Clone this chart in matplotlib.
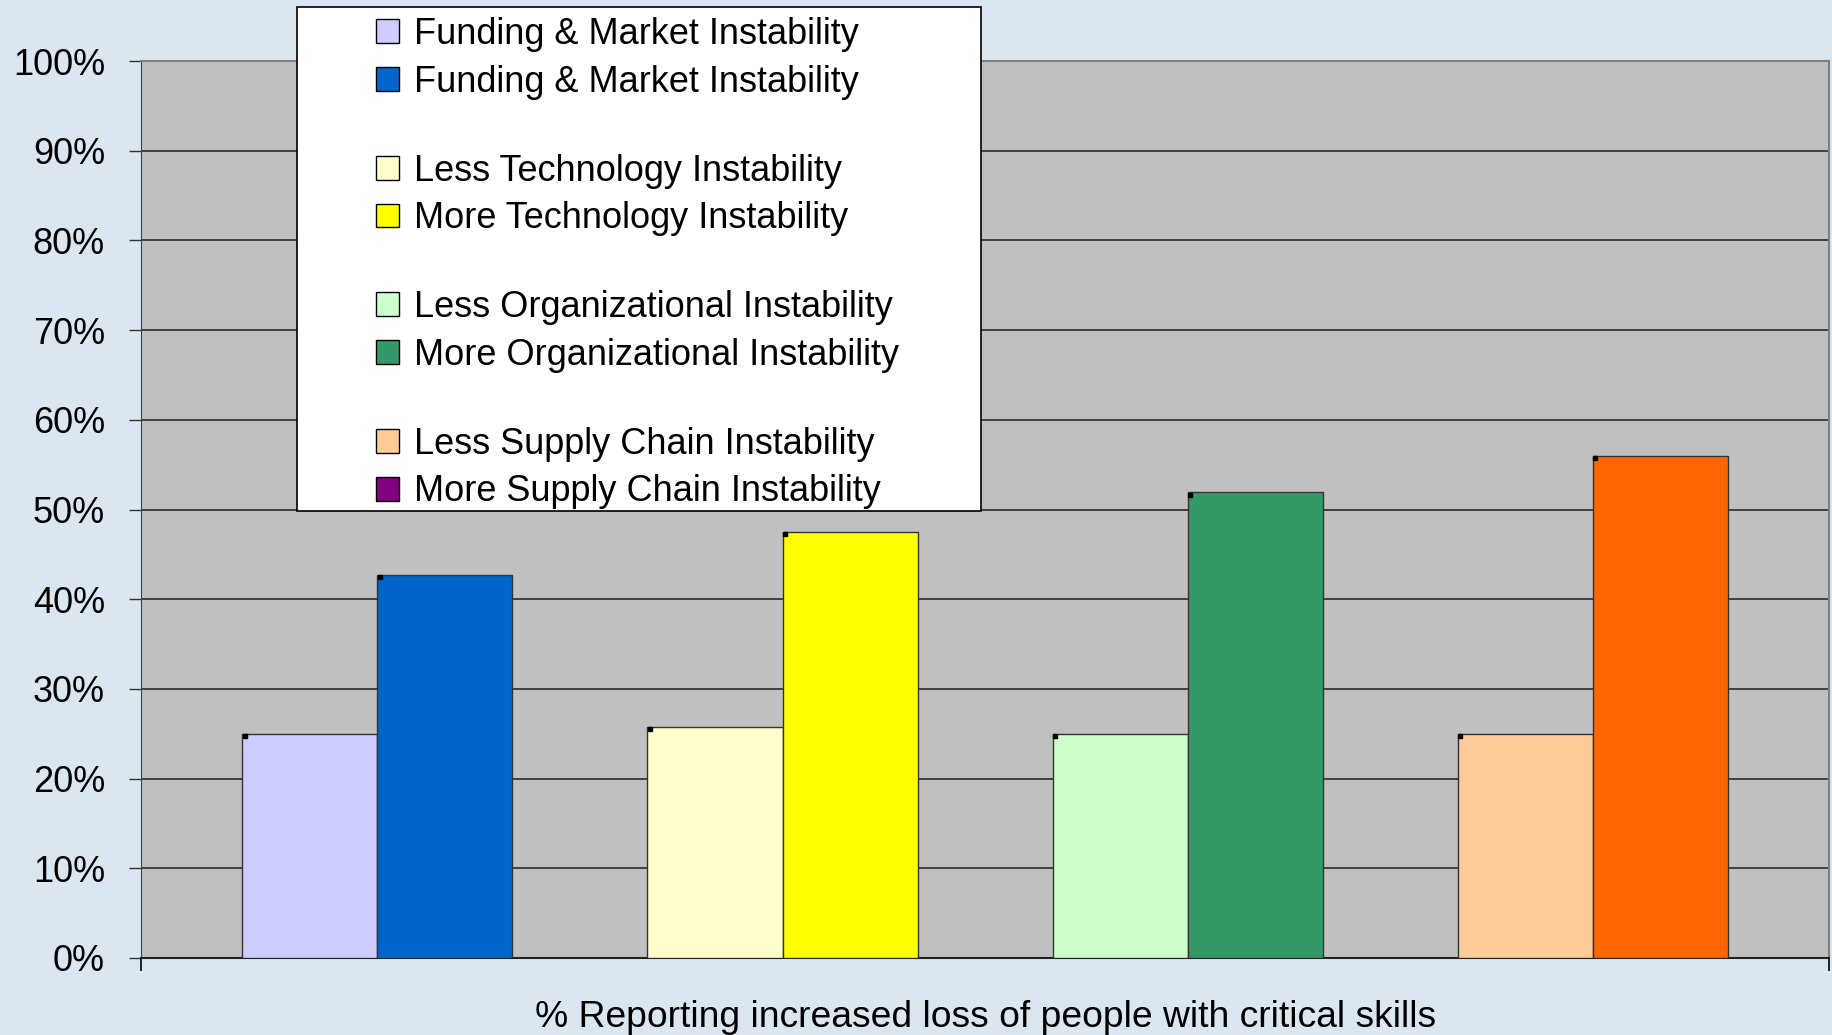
import matplotlib.pyplot as plt
from matplotlib.patches import Rectangle, Patch

# clustered bars: less / more instability for each factor, blank slot between factors
series = ['Funding & Market Instability', 'Funding & Market Instability', None,
          'Less Technology Instability', 'More Technology Instability', None,
          'Less Organizational Instability', 'More Organizational Instability', None,
          'Less Supply Chain Instability', 'More Supply Chain Instability']
values = [25.0, 42.7, None,
          25.8, 47.5, None,
          25.0, 51.9, None,
          25.0, 56.0]
bar_colors = ['#CCCCFF', '#0066CC', None,
              '#FFFFCC', '#FFFF00', None,
              '#CCFFCC', '#339966', None,
              '#FFCC99', '#FF6600']
legend_colors = ['#CCCCFF', '#0066CC', None,
                 '#FFFFCC', '#FFFF00', None,
                 '#CCFFCC', '#339966', None,
                 '#FFCC99', '#800080']
yticks = [0, 10, 20, 30, 40, 50, 60, 70, 80, 90, 100]
xlabel = '% Reporting increased loss of people with critical skills'

font = 'Liberation Sans'
bg = '#DAE6F0'
fig = plt.figure(figsize=(18.32, 10.35), dpi=100, facecolor=bg)
ax = fig.add_axes([0.077, 0.0744, 0.9214, 0.8666])
ax.set_facecolor('#C0C0C0')

for i, (v, c) in enumerate(zip(values, bar_colors)):
    if v is None:
        continue
    ax.bar(i, v, width=1.0, color=c, edgecolor='#333333', linewidth=1.0, zorder=3)
    ax.plot(i - 0.48, v - 0.25, marker='s', markersize=2.5, color='black', zorder=4)

ax.set_xlim(-1.25, 11.25)
ax.set_ylim(0, 100)
ax.set_yticks(yticks)
ax.set_yticklabels([f'{t}%' for t in yticks], fontsize=26, family=font)
ax.tick_params(axis='y', length=9, width=1, color='#333333', pad=17)
ax.set_xticks([-1.25, 11.25])
ax.set_xticklabels([])
ax.tick_params(axis='x', length=9, width=1.2, color='black')
ax.grid(axis='y', color='#2a2a2a', linewidth=1.2, zorder=1)
ax.set_axisbelow(True)
for side in ['top', 'right']:
    ax.spines[side].set_color('#808080')
    ax.spines[side].set_linewidth(1.5)
ax.spines['left'].set_color('#404040')
ax.spines['bottom'].set_color('#222222')
ax.spines['bottom'].set_linewidth(1.5)

ax.set_xlabel(xlabel, fontsize=26.8, family=font, va='center')
ax.xaxis.set_label_coords(0.5, -0.0663)

# legend box sits above the plot area
fig.patches.append(Rectangle((0.1621, 0.5063), 0.3734, 0.487, transform=fig.transFigure,
                             facecolor='white', edgecolor='black', linewidth=1.2, zorder=5))
handles = []
labels = []
for lab, c in zip(series, legend_colors):
    if lab is None:
        handles.append(Patch(facecolor='none', edgecolor='none'))
        labels.append(' ')
    else:
        handles.append(Patch(facecolor=c, edgecolor='black', linewidth=1.0))
        labels.append(lab)
leg = fig.legend(handles, labels, loc='upper left', bbox_to_anchor=(376 / 1832, 1 - 17 / 1035),
                 frameon=False, borderpad=0, borderaxespad=0, handlelength=0.64, handleheight=0.64,
                 handletextpad=0.42, labelspacing=0.35,
                 prop={'family': font, 'size': 26})
leg.set_zorder(6)
for t, lab in zip(leg.get_texts(), series):
    if lab is None:
        t.set_fontsize(13)

fig.savefig('out.png', dpi=100, facecolor=bg)
